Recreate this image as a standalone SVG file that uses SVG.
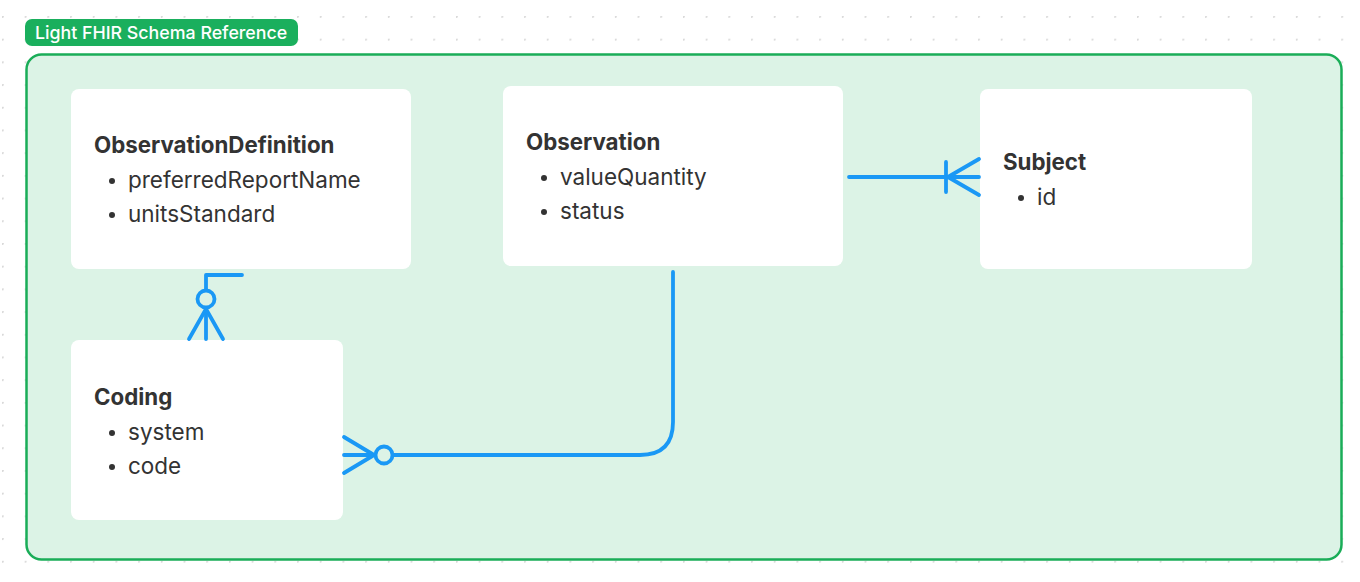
<svg xmlns="http://www.w3.org/2000/svg" width="1360" height="582" viewBox="0 0 1360 582">
<defs>
<pattern id="dots" x="2" y="16" width="22.7" height="22.7" patternUnits="userSpaceOnUse">
<circle cx="0.8" cy="0.8" r="1.1" fill="#d9d9d9"/>
</pattern>
<style>
.node{fill:#ffffff}
.title{font-family:Inter,"Noto Sans",sans-serif;font-size:22.3px;font-weight:700;fill:#333333}
.item{font-family:Inter,"Noto Sans",sans-serif;font-size:22.5px;fill:#333333}
.conn{fill:none;stroke:#1a98f5;stroke-width:3.8;stroke-linecap:round;stroke-linejoin:round}
.circ{fill:#dcf3e6;stroke:#1a98f5;stroke-width:3.8}
</style>
</defs>
<rect width="1360" height="582" fill="#ffffff"/>
<rect width="1360" height="582" fill="url(#dots)"/>
<g id="container">
<rect x="26.5" y="54.5" width="1315" height="505" rx="15" fill="#dcf3e6" stroke="#1aad58" stroke-width="2.5"/>
<rect x="25" y="19" width="273" height="27" rx="7" fill="#1aaf5d"/>
<text x="35" y="39" font-family="Inter,'Noto Sans',sans-serif" font-size="17.8" font-weight="500" fill="#ffffff">Light FHIR Schema Reference</text>
</g>
<g id="ObservationDefinition">
<rect class="node" x="71" y="89" width="340" height="180" rx="8"/>
<text class="title" x="94" y="153">ObservationDefinition</text>
<circle cx="112" cy="181" r="3" fill="#333"/>
<text class="item" x="128" y="188">preferredReportName</text>
<circle cx="112" cy="215" r="3" fill="#333"/>
<text class="item" x="128" y="222">unitsStandard</text>
</g>
<g id="Observation">
<rect class="node" x="503" y="86" width="340" height="180" rx="8"/>
<text class="title" x="526" y="150">Observation</text>
<circle cx="544" cy="178" r="3" fill="#333"/>
<text class="item" x="560" y="185">valueQuantity</text>
<circle cx="544" cy="212" r="3" fill="#333"/>
<text class="item" x="560" y="219">status</text>
</g>
<g id="Subject">
<rect class="node" x="980" y="89" width="272" height="180" rx="8"/>
<text class="title" x="1003" y="170">Subject</text>
<circle cx="1021" cy="198" r="3" fill="#333"/>
<text class="item" x="1037" y="205">id</text>
</g>
<g id="Coding">
<rect class="node" x="71" y="340" width="272" height="180" rx="8"/>
<text class="title" x="94" y="405">Coding</text>
<circle cx="112" cy="433" r="3" fill="#333"/>
<text class="item" x="128" y="440">system</text>
<circle cx="112" cy="467" r="3" fill="#333"/>
<text class="item" x="128" y="474">code</text>
</g>
<g id="connectors">
<path class="conn" d="M242,275 H206 V339"/>
<path class="conn" d="M206,309 L189,339 M206,309 L223,339"/>
<circle class="circ" cx="206" cy="299" r="8.5"/>
<path class="conn" d="M673,272 V422 Q673,455 640,455 H344"/>
<path class="conn" d="M374,455 L344,437 M374,455 L344,473"/>
<circle class="circ" cx="384" cy="455" r="8.5"/>
<path class="conn" d="M849,177 H979"/>
<path class="conn" d="M946,162 V192"/>
<path class="conn" d="M948,177 L979,159 M948,177 L979,195"/>
</g>
</svg>
